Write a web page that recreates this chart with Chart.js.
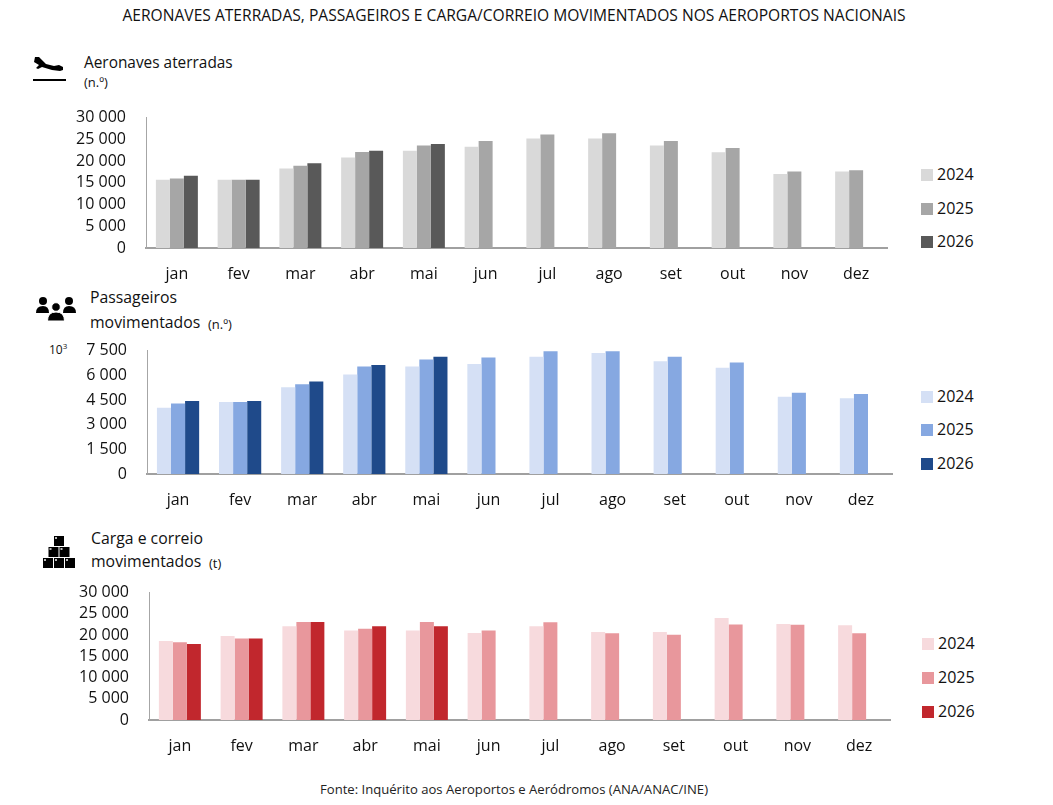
<!DOCTYPE html>
<html><head><meta charset="utf-8">
<script src="https://cdn.jsdelivr.net/npm/chart.js@4.4.1/dist/chart.umd.min.js"></script>
<style>
body{margin:0;background:#fff;font-family:'Open Sans',sans-serif;color:#111;}
#page{position:relative;width:1053px;height:805px;overflow:hidden;background:#fff;}
.abs{position:absolute;white-space:nowrap;line-height:1;}
canvas{position:absolute;}
.leg{position:absolute;font-size:16px;line-height:16px;white-space:nowrap;}
.sw{display:inline-block;width:12px;height:12px;margin-right:4px;vertical-align:-1px;}
</style></head><body><div id="page">
<div class="abs" id="title" style="left:514px;top:8px;transform:translateX(-50%);font-size:15.6px;">AERONAVES ATERRADAS, PASSAGEIROS E CARGA/CORREIO MOVIMENTADOS NOS AEROPORTOS NACIONAIS</div>

<svg class="abs" style="left:30px;top:52px" width="40" height="32" viewBox="0 0 40 32">
  <path d="M5 5 L9 5 L16 12 L24 14 L29 13 L33 15 L33 18 L30 19 L22 18 L12 15 L8 17 L6 16 L9 13 L4 10 Z" fill="#000"/>
  <rect x="3" y="27" width="33" height="2" fill="#000"/>
</svg>
<div class="abs" style="left:84px;top:55px;font-size:15.4px;">Aeronaves aterradas</div>
<div class="abs" style="left:84px;top:76px;font-size:13px;">(n.º)</div>

<svg class="abs" style="left:35px;top:296px" width="42" height="26" viewBox="0 0 42 26">
  <circle cx="8" cy="5" r="4" fill="#000"/><circle cx="34" cy="5" r="4" fill="#000"/>
  <path d="M1 17 Q1 10 8 10 Q14 10 14 17 Z" fill="#000"/><path d="M28 17 Q28 10 34 10 Q41 10 41 17 Z" fill="#000"/>
  <circle cx="21" cy="11" r="4.3" fill="#000" stroke="#fff" stroke-width="1"/>
  <path d="M12.5 25 Q12.5 16 21 16 Q29.5 16 29.5 25 Z" fill="#000" stroke="#fff" stroke-width="1"/>
</svg>
<div class="abs" style="left:90px;top:290px;font-size:15.8px;">Passageiros</div>
<div class="abs" style="left:90px;top:315px;font-size:15.8px;">movimentados</div>
<div class="abs" style="left:208px;top:318px;font-size:13px;">(n.º)</div>
<div class="abs" style="left:49px;top:342px;font-size:12px;">10<sup style="font-size:8px">3</sup></div>

<svg class="abs" style="left:42px;top:535px" width="36" height="36" viewBox="0 0 36 36">
  <g fill="#000">
   <rect x="12" y="1" width="10" height="10"/>
   <rect x="6.5" y="12" width="10" height="10"/><rect x="17.5" y="12" width="10" height="10"/>
   <rect x="1" y="23" width="10" height="10"/><rect x="12" y="23" width="10" height="10"/><rect x="23" y="23" width="10" height="10"/>
  </g>
  <g fill="#bbb">
   <rect x="13" y="2" width="2" height="2"/><rect x="7.5" y="13" width="2" height="2"/><rect x="18.5" y="13" width="2" height="2"/>
   <rect x="2" y="24" width="2" height="2"/><rect x="13" y="24" width="2" height="2"/><rect x="24" y="24" width="2" height="2"/>
  </g>
</svg>
<div class="abs" style="left:91px;top:531px;font-size:15.8px;">Carga e correio</div>
<div class="abs" style="left:91px;top:554px;font-size:15.8px;">movimentados</div>
<div class="abs" style="left:209px;top:557px;font-size:13px;">(t)</div>

<canvas id="c1" width="900" height="200" style="left:0;top:88px"></canvas>
<canvas id="c2" width="905" height="200" style="left:0;top:321px"></canvas>
<canvas id="c3" width="903" height="200" style="left:0;top:563px"></canvas>

<div id="leg1"></div><div id="leg2"></div><div id="leg3"></div>

<div class="abs" style="left:514px;top:783px;transform:translateX(-50%);font-size:13.1px;color:#222;">Fonte: Inquérito aos Aeroportos e Aeródromos (ANA/ANAC/INE)</div>
</div>
<script>
const months = ['jan','fev','mar','abr','mai','jun','jul','ago','set','out','nov','dez'];
const years = ['2024','2025','2026'];

const aero2024 = [15700,15700,18300,20800,22400,23300,25200,25200,23600,22000,17000,17600];
const aero2025 = [16000,15700,18900,22100,23600,24600,26100,26400,24600,23000,17600,17900];
const aero2026 = [16600,15700,19500,22400,23900,null,null,null,null,null,null,null];

const pass2024 = [4020,4380,5280,6040,6540,6680,7120,7360,6860,6460,4700,4600];
const pass2025 = [4280,4380,5460,6540,6960,7080,7460,7460,7120,6780,4940,4860];
const pass2026 = [4440,4440,5620,6620,7120,null,null,null,null,null,null,null];

const carga2024 = [18600,19800,22100,21100,21100,20500,22100,20700,20700,24000,22600,22300];
const carga2025 = [18300,19200,23100,21500,23100,21100,23000,20400,20100,22500,22400,20400];
const carga2026 = [17900,19200,23100,22100,22100,null,null,null,null,null,null,null];

const aeroColors = ['#d9d9d9','#a6a6a6','#595959'];
const passColors = ['#d5e0f5','#86a8e1','#1f4a8a'];
const cargaColors = ['#f7dadd','#e8979c','#c1272d'];

const aeroTicks = [0,5000,10000,15000,20000,25000,30000];
const passTicks = [0,1500,3000,4500,6000,7500];
const cargaTicks = [0,5000,10000,15000,20000,25000,30000];

const FONT = "'Open Sans', sans-serif";
function fmt(v){ return String(v).replace(/\B(?=(\d{3})+(?!\d))/g,' '); }

function makeChart(id, series, colors, ticks, yWidth, xHeight){
  const max = ticks[ticks.length-1], step = ticks[1]-ticks[0];
  return new Chart(document.getElementById(id), {
    type:'bar',
    data:{labels:months, datasets: years.map((y,i)=>({label:y, data:series[i], backgroundColor:colors[i], borderWidth:0, categoryPercentage:0.68, barPercentage:1}))},
    options:{
      responsive:false, animation:false,
      layout:{padding:{top:0,right:13,left:0,bottom:0}},
      plugins:{legend:{display:false}, tooltip:{enabled:false}},
      scales:{
        x:{grid:{display:false,drawTicks:false}, border:{display:true,color:'#a0a0a0',width:2},
           ticks:{font:{family:FONT,size:16},color:'#111',padding:17},
           afterFit:s=>{s.height=xHeight;}},
        y:{min:0,max:max, grid:{display:false,drawTicks:false}, border:{display:true,color:'#a6a6a6',width:1},
           ticks:{stepSize:step,autoSkip:false,font:{family:FONT,size:16},color:'#111',padding:20,callback:v=>fmt(v)},
           afterFit:s=>{s.width=yWidth;}}
      }
    }
  });
}

makeChart('c1',[aero2024,aero2025,aero2026],aeroColors,aeroTicks,146,40);
makeChart('c2',[pass2024,pass2025,pass2026],passColors,passTicks,147,47);
makeChart('c3',[carga2024,carga2025,carga2026],cargaColors,cargaTicks,149,43);

function legend(id, colors, left, tops){
  const el = document.getElementById(id);
  years.forEach((y,i)=>{
    const d = document.createElement('div');
    d.className='leg';
    d.style.left=left+'px'; d.style.top=(tops[i]-8)+'px';
    d.innerHTML='<span class="sw" style="background:'+colors[i]+'"></span>'+y;
    el.appendChild(d);
  });
}
legend('leg1',aeroColors,921,[174,208,241]);
legend('leg2',passColors,921,[396,429,463]);
legend('leg3',cargaColors,922,[643,677,711]);
</script>
</body></html>
